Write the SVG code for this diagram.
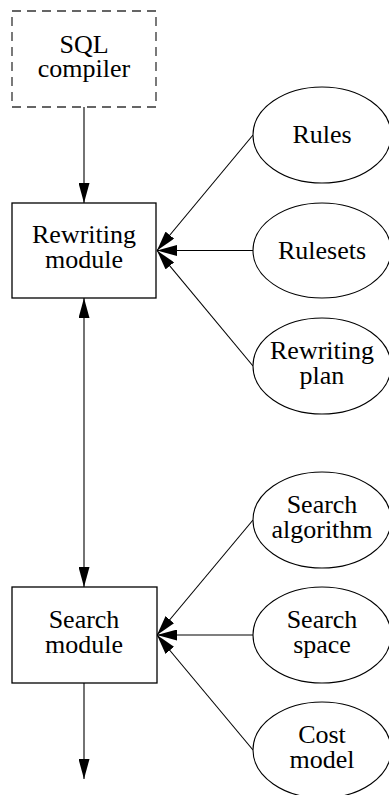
<svg xmlns="http://www.w3.org/2000/svg" width="389" height="795" viewBox="0 0 389 795">
  <style>
    .box { fill: #ffffff; stroke: #000000; stroke-width: 1.3; }
    .dashed { fill: #ffffff; stroke: #333333; stroke-width: 1.3; stroke-dasharray: 9 6; }
    .oval { fill: #ffffff; stroke: #000000; stroke-width: 1.1; }
    .label { font-family: "Liberation Serif", "Times New Roman", serif; font-size: 26px; fill: #000000; text-anchor: middle; }
    .edge { fill: none; stroke: #000000; stroke-width: 1.1; }
  </style>
  <defs>
    <marker id="head" markerUnits="userSpaceOnUse" markerWidth="20" markerHeight="11" refX="20" refY="5.5" orient="auto-start-reverse">
      <path d="M0,0 L20,5.5 L0,11 z" fill="#000000"/>
    </marker>
  </defs>

  <rect width="389" height="795" fill="#ffffff"/>

  <g id="connectors">
    <line class="edge" x1="84" y1="107" x2="84" y2="203" marker-end="url(#head)"/>
    <line class="edge" x1="84" y1="298" x2="84" y2="587" marker-start="url(#head)" marker-end="url(#head)"/>
    <line class="edge" x1="84" y1="683" x2="84" y2="779" marker-end="url(#head)"/>
    <line class="edge" x1="253" y1="135" x2="157" y2="250.5" marker-end="url(#head)"/>
    <line class="edge" x1="253" y1="250.5" x2="157" y2="250.5" marker-end="url(#head)"/>
    <line class="edge" x1="253" y1="366" x2="157" y2="250.5" marker-end="url(#head)"/>
    <line class="edge" x1="253" y1="520" x2="157" y2="635" marker-end="url(#head)"/>
    <line class="edge" x1="253" y1="635" x2="157" y2="635" marker-end="url(#head)"/>
    <line class="edge" x1="253" y1="750" x2="157" y2="635" marker-end="url(#head)"/>
  </g>

  <g id="sql-compiler">
    <rect class="dashed" x="12" y="11" width="144" height="96"/>
    <text class="label" x="84" y="52.5">SQL<tspan x="84" dy="24.5">compiler</tspan></text>
  </g>

  <g id="rewriting-module">
    <rect class="box" x="12" y="203" width="144" height="95"/>
    <text class="label" x="84" y="243">Rewriting<tspan x="84" dy="25">module</tspan></text>
  </g>

  <g id="search-module">
    <rect class="box" x="12" y="587" width="145" height="96"/>
    <text class="label" x="84" y="628">Search<tspan x="84" dy="24.5">module</tspan></text>
  </g>

  <g id="rules">
    <ellipse class="oval" cx="322" cy="135" rx="69" ry="48"/>
    <text class="label" x="322" y="143">Rules</text>
  </g>

  <g id="rulesets">
    <ellipse class="oval" cx="322" cy="250.5" rx="69" ry="47.5"/>
    <text class="label" x="322" y="259">Rulesets</text>
  </g>

  <g id="rewriting-plan">
    <ellipse class="oval" cx="322" cy="366" rx="69" ry="48"/>
    <text class="label" x="322" y="359">Rewriting<tspan x="322" dy="24.5">plan</tspan></text>
  </g>

  <g id="search-algorithm">
    <ellipse class="oval" cx="322" cy="520" rx="69" ry="48"/>
    <text class="label" x="322" y="513">Search<tspan x="322" dy="24.5">algorithm</tspan></text>
  </g>

  <g id="search-space">
    <ellipse class="oval" cx="322" cy="635" rx="69" ry="48"/>
    <text class="label" x="322" y="628">Search<tspan x="322" dy="24.5">space</tspan></text>
  </g>

  <g id="cost-model">
    <ellipse class="oval" cx="322" cy="750" rx="69" ry="48"/>
    <text class="label" x="322" y="743">Cost<tspan x="322" dy="24.5">model</tspan></text>
  </g>
</svg>
